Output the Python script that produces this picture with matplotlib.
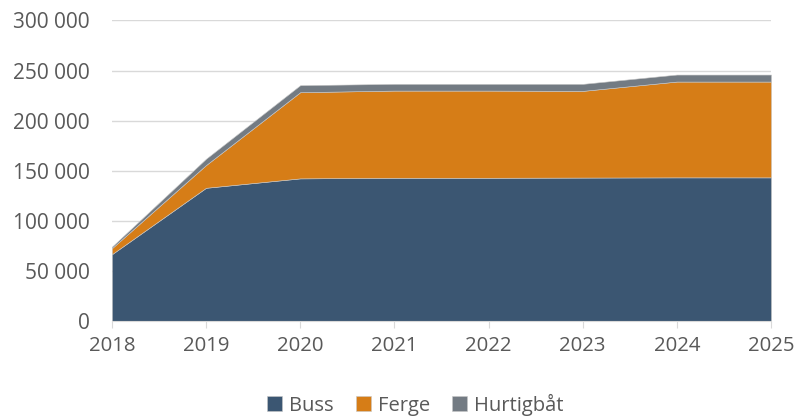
import matplotlib.pyplot as plt
from matplotlib.ticker import FuncFormatter

years = [2018, 2019, 2020, 2021, 2022, 2023, 2024, 2025]
buss = [66700, 133000, 142400, 143000, 143000, 143200, 143400, 143400]
ferge = [6000, 22700, 86000, 87000, 87000, 86500, 95600, 95600]
hurtigbat = [1500, 6300, 7000, 6700, 6700, 7000, 7000, 7000]

labels = ['Buss', 'Ferge', 'Hurtigbåt']
colors = ['#3b5672', '#d67d17', '#737b83']

plt.rcParams['font.family'] = ['Open Sans', 'DejaVu Sans']
text_col = '#595959'

fig = plt.figure(figsize=(7.99, 4.17), dpi=100)
ax = fig.add_axes([0.140, 0.230, 0.825, 0.721])

ax.stackplot(years, buss, ferge, hurtigbat, labels=labels, colors=colors,
             edgecolor='#c8c8c8', linewidth=0.4, zorder=2)

ax.set_xlim(2018, 2025)
ax.set_ylim(0, 300000)
ax.set_yticks(range(0, 300001, 50000))
ax.set_xticks(years)
ax.yaxis.set_major_formatter(FuncFormatter(lambda v, p: f'{int(v):,}'.replace(',', ' ')))

ax.grid(axis='y', color='#d9d9d9', linewidth=1, zorder=0)
for s in ['top', 'right', 'left']:
    ax.spines[s].set_visible(False)
ax.spines['bottom'].set_color('#d9d9d9')
ax.tick_params(axis='y', length=0, pad=16, labelsize=15, labelcolor=text_col)
ax.tick_params(axis='x', length=5, color='#d9d9d9', pad=6, labelsize=14.7, labelcolor=text_col)

fig.legend(loc='lower center', bbox_to_anchor=(0.52, -0.04), ncol=3, frameon=False,
           fontsize=14.5, labelcolor=text_col, handlelength=0.75, handleheight=0.75,
           handletextpad=0.35, columnspacing=1.1)

fig.savefig('out.png', dpi=100)
